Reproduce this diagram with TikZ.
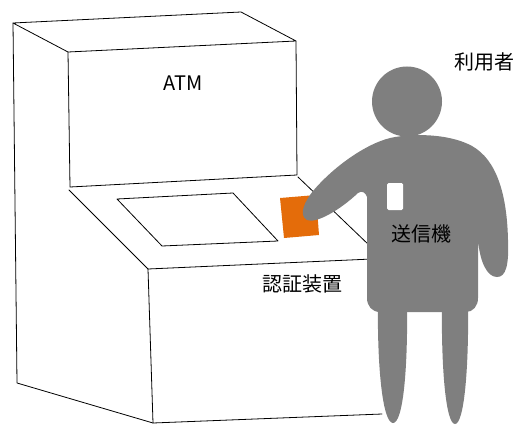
\documentclass[tikz,border=0pt]{standalone}
\usepackage{fontspec}
\setmainfont{Noto Sans CJK JP}
\newfontfamily\jpfont{Noto Sans CJK JP}
\definecolor{figgray}{RGB}{127,127,127}
\definecolor{cardorange}{RGB}{228,108,10}
\tikzset{
  edge/.style={draw=black, line width=0.8pt, line join=round, line cap=round},
  label/.style={font=\jpfont\fontsize{20}{24}\selectfont, text=black, inner sep=0pt},
  figure/.style={fill=figgray, draw=none},
}
\begin{document}
\begin{tikzpicture}[x=1pt, y=-1pt]
\useasboundingbox (0,0) rectangle (519,425);

% ---- ATM cabinet ----
% upper housing
\draw[edge] (13,23) -- (241,12) -- (296,41) -- (68,52) -- cycle;
\draw[edge] (68,52) -- (70,187) -- (297,175) -- (296,41);
\draw[edge] (13,23) -- (17,383) -- (153,423);
% sloped shelf
\draw[edge] (69,190) -- (148,269);
\draw[edge] (298,177) -- (370,246);
% display on the shelf
\draw[edge] (117,199) -- (233,193) -- (278,241) -- (162,246) -- cycle;
% lower box
\draw[edge] (148,269) -- (372,259);
\draw[edge] (148,269) -- (153,423) -- (382,414);

% card held against the reader
\fill[cardorange] (280,198) -- (316,195) -- (319,235) -- (284,238) -- cycle;

% ---- person ----
\fill[figure] (407,101.5) circle[radius=35];
\fill[figure] (367,197) -- (367,298)
  .. controls (367,306) and (372,312) .. (380,312)
  -- (466,312)
  .. controls (473,312) and (478,306) .. (478,298)
  -- (478,240)
  .. controls (480,262) and (487,277) .. (497,277)
  .. controls (506,277) and (509,265) .. (508,240)
  .. controls (507,195) and (497,160) .. (472,146)
  .. controls (452,135) and (420,133) .. (395,137)
  .. controls (370,141) and (335,165) .. (313,191)
  .. controls (305,201) and (298,215) .. (307,220)
  .. controls (316,224) and (340,210) .. (358,193)
  .. controls (362,190) and (366,193) .. (367,197) -- cycle;
% legs
\fill[figure] (378,300) .. controls (377,370) and (383,423) .. (393,423)
  .. controls (403,423) and (408,370) .. (407,300) -- cycle;
\fill[figure] (442,300) .. controls (441,370) and (446,424) .. (455,424)
  .. controls (464,424) and (469,370) .. (468,300) -- cycle;
% badge
\fill[white, rounded corners=1.5pt] (387,183) rectangle (403,210);

% ---- labels ----
\node[label] (atm) at (183,83) {ATM};
\node[label] (reader) at (302,284) {認証装置};
\node[label] (sender) at (421,234) {送信機};
\node[label] (user) at (484,62) {利用者};
\end{tikzpicture}
\end{document}
